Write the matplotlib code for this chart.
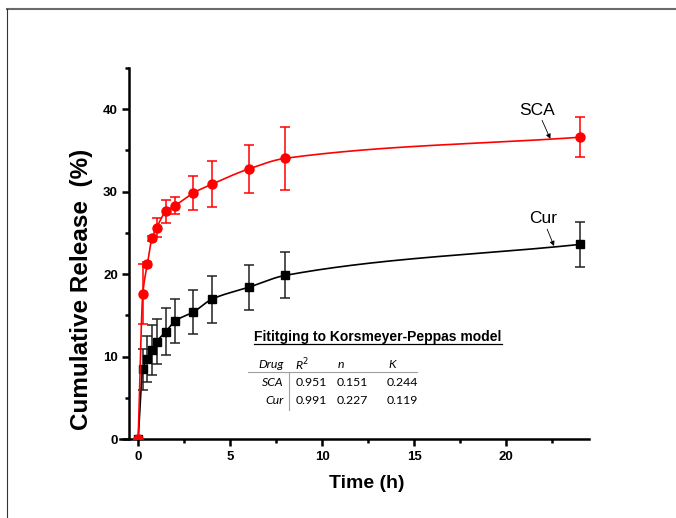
import numpy as np
import matplotlib
matplotlib.use("Agg")
import matplotlib.pyplot as plt
from matplotlib.lines import Line2D
from matplotlib.ticker import MultipleLocator

# ---- data ----
time_h = [0, 0.25, 0.5, 0.75, 1, 1.5, 2, 3, 4, 6, 8, 24]
sca_release = [0, 17.6, 21.2, 24.35, 25.6, 27.6, 28.3, 29.85, 30.9, 32.75, 34.05, 36.6]
sca_err = [0, 3.6, 0.3, 0.3, 1.15, 1.35, 1.0, 2.1, 2.8, 2.95, 3.8, 2.45]
cur_release = [0, 8.45, 9.7, 10.8, 11.8, 13.0, 14.3, 15.4, 16.95, 18.4, 19.85, 23.6]
cur_err = [0, 2.5, 2.8, 3.0, 2.7, 2.85, 2.7, 2.7, 2.85, 2.75, 2.8, 2.75]

table_cols = ["Drug", "R$^2$", "n", "K"]
table_drugs = ["SCA", "Cur"]
table_r2 = ["0.951", "0.991"]
table_n = ["0.151", "0.227"]
table_k = ["0.244", "0.119"]


def smooth_curve(x, y, xs):
    """Monotone cubic Hermite through the points (secant slope at the last node)."""
    x = np.asarray(x, float); y = np.asarray(y, float)
    h = np.diff(x); d = np.diff(y) / h
    m = np.zeros_like(y)
    for k in range(1, len(x) - 1):
        if d[k - 1] * d[k] <= 0:
            m[k] = 0
        else:
            w1 = 2 * h[k] + h[k - 1]; w2 = h[k] + 2 * h[k - 1]
            m[k] = (w1 + w2) / (w1 / d[k - 1] + w2 / d[k])
    m[0] = d[0]
    m[-1] = d[-1]
    idx = np.clip(np.searchsorted(x, xs) - 1, 0, len(x) - 2)
    t = (xs - x[idx]) / h[idx]
    h00 = 2 * t**3 - 3 * t**2 + 1; h10 = t**3 - 2 * t**2 + t
    h01 = -2 * t**3 + 3 * t**2; h11 = t**3 - t**2
    return h00 * y[idx] + h10 * h[idx] * m[idx] + h01 * y[idx + 1] + h11 * h[idx] * m[idx + 1]


W, H = 676, 518
fig = plt.figure(figsize=(W / 100, H / 100), dpi=100)
ax = fig.add_axes([129 / W, 1 - 439 / H, (589 - 129) / W, (439 - 68) / H])

xs = np.linspace(0, 24, 2000)
ax.plot(xs, smooth_curve(time_h, cur_release, xs), color="black", lw=1.2, zorder=2)
ax.errorbar(time_h, cur_release, yerr=cur_err, fmt="s", color="black", ms=5.5,
            ecolor="#222222", elinewidth=1.1, capsize=3.5, capthick=1.1, zorder=3)
ax.plot(xs, smooth_curve(time_h, sca_release, xs), color="#ff0000", lw=1.2, zorder=4)
ax.errorbar(time_h, sca_release, yerr=sca_err, fmt="o", color="#ff0000", ms=6.5,
            ecolor="#ff0000", elinewidth=1.1, capsize=3.5, capthick=1.1, zorder=5)

ax.set_xlim(-0.5, 24.5)
ax.set_ylim(0, 45)
ax.xaxis.set_major_locator(MultipleLocator(5))
ax.xaxis.set_minor_locator(MultipleLocator(2.5))
ax.yaxis.set_major_locator(MultipleLocator(10))
ax.yaxis.set_minor_locator(MultipleLocator(5))
for s in ["top", "right"]:
    ax.spines[s].set_visible(False)
for s in ["left", "bottom"]:
    ax.spines[s].set_linewidth(1.8)
ax.spines["bottom"].set_bounds(-1.0, 24.5)
ax.tick_params(which="major", direction="out", length=5, width=1.8, labelsize=9.5)
ax.tick_params(which="minor", direction="out", length=3, width=1.8)
ax.tick_params(axis="x", pad=4)
ax.tick_params(axis="y", pad=3)
for lab in ax.get_xticklabels() + ax.get_yticklabels():
    lab.set_fontweight("bold")
    lab.set_family("Liberation Sans")


def fp(px, py):
    return px / W, 1 - py / H


fig.text(*fp(367, 484), "Time (h)", ha="center", va="center", fontsize=14,
         fontweight="bold", family="Liberation Sans")
fig.text(*fp(82, 289), "Cumulative Release  (%)", ha="center", va="center", rotation=90,
         fontsize=17.5, fontweight="bold", family="Liberation Sans")

arrow = dict(arrowstyle="-|>", lw=0.6, color="black", mutation_scale=7, shrinkA=0, shrinkB=0)
ax.annotate("SCA", xy=(22.4, 36.4), xytext=(21.7, 39.9), ha="center", va="center",
            fontsize=12.5, family="Liberation Sans", arrowprops=arrow)
ax.annotate("Cur", xy=(22.6, 23.4), xytext=(22.0, 26.7), ha="center", va="center",
            fontsize=12.5, family="Liberation Sans", arrowprops=arrow)

# ---- fitting table ----
tfont = dict(family="Lato", fontsize=8.8)
title = fig.text(*fp(378, 337), "Fititging to Korsmeyer-Peppas model", ha="center", va="center",
                 fontsize=10, fontweight="bold", family="Liberation Sans")
fig.text(*fp(284, 365), table_cols[0], ha="right", va="center", style="italic", **tfont)
fig.text(*fp(295, 365), table_cols[1], ha="left", va="center", style="italic", **tfont)
fig.text(*fp(338, 365), table_cols[2], ha="left", va="center", style="italic", **tfont)
fig.text(*fp(388, 365), table_cols[3], ha="left", va="center", style="italic", **tfont)
rows_y = [382, 400]
for i, yy in enumerate(rows_y):
    fig.text(*fp(284, yy), table_drugs[i], ha="right", va="center", style="italic", **tfont)
    fig.text(*fp(296, yy), table_r2[i], ha="left", va="center", **tfont)
    fig.text(*fp(337, yy), table_n[i], ha="left", va="center", **tfont)
    fig.text(*fp(387, yy), table_k[i], ha="left", va="center", **tfont)
fig.add_artist(Line2D([248 / W, 417 / W], [1 - 371.5 / H, 1 - 371.5 / H], color="#a0a0a0", lw=0.8))
fig.add_artist(Line2D([289 / W, 289 / W], [1 - 371.5 / H, 1 - 410 / H], color="#a0a0a0", lw=0.8))

# underline for title
fig.canvas.draw()
bb = title.get_window_extent()
uy = bb.y0 + 0.5
fig.add_artist(Line2D([bb.x0 / W, bb.x1 / W], [uy / H, uy / H], color="black", lw=0.9))

# outer frame (top and left edges visible)
fig.add_artist(Line2D([6.5 / W, 1.0], [1 - 8.5 / H, 1 - 8.5 / H], color="#6a6a6a", lw=1.5))
fig.add_artist(Line2D([6.5 / W, 6.5 / W], [1 - 8.5 / H, 0], color="#333333", lw=0.8))

fig.savefig("out.png", dpi=100)
